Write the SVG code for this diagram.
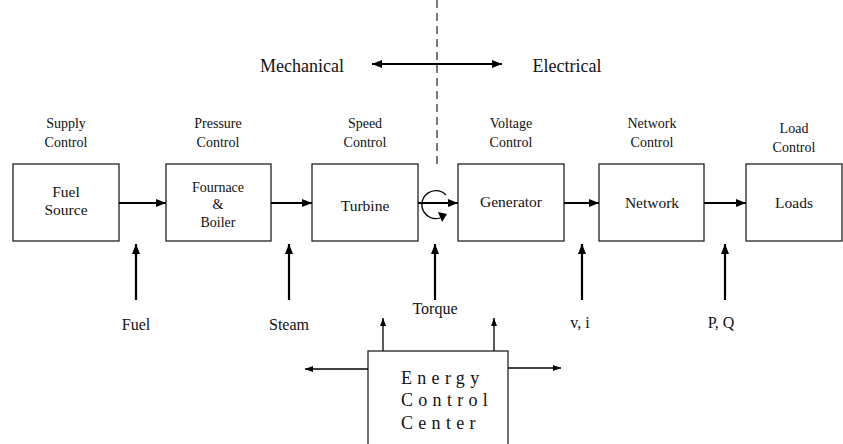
<svg xmlns="http://www.w3.org/2000/svg" width="843" height="444" viewBox="0 0 843 444">
<defs>
<marker id="ah" viewBox="0 0 10 8" refX="10" refY="4" markerWidth="10" markerHeight="8" markerUnits="userSpaceOnUse" orient="auto-start-reverse"><path d="M0,0 L10,4 L0,8 Z" fill="#000"/></marker>
<marker id="ahs" viewBox="0 0 8 6" refX="8" refY="3" markerWidth="8" markerHeight="6" markerUnits="userSpaceOnUse" orient="auto-start-reverse"><path d="M0,0 L8,3 L0,6 Z" fill="#000"/></marker>
<style>
.box{fill:#fff;stroke:#222;stroke-width:1.3}
.t{font-family:"Liberation Serif","Times New Roman",serif;fill:#111;text-anchor:middle}
.s14{font-size:14px}
.s15{font-size:15.5px}
.s16{font-size:16px}
.s18{font-size:18px}
.thick{stroke:#000;stroke-width:2.2;fill:none;marker-end:url(#ah)}
.thin{stroke:#000;stroke-width:1.3;fill:none;marker-end:url(#ahs)}
</style>
</defs>
<rect width="843" height="444" fill="#fff"/>

<g id="divider">
<line x1="437" y1="0" x2="437" y2="165" stroke="#333" stroke-width="1.3" stroke-dasharray="8,5"/>
<line x1="372" y1="64" x2="502" y2="64" stroke="#000" stroke-width="2.2" marker-start="url(#ah)" marker-end="url(#ah)"/>
<text class="t s18" x="302" y="72">Mechanical</text>
<text class="t s18" x="567" y="72">Electrical</text>
</g>

<g id="fuel-source">
<rect class="box" x="13" y="164" width="106" height="77"/>
<text class="t s15" x="66" y="197">Fuel</text>
<text class="t s15" x="66" y="215">Source</text>
<text class="t s14" x="66" y="128">Supply</text>
<text class="t s14" x="66" y="147">Control</text>
</g>

<g id="furnace-boiler">
<rect class="box" x="166" y="164" width="105" height="77"/>
<text class="t s14" x="218" y="192">Fournace</text>
<text class="t s14" x="218" y="209">&amp;</text>
<text class="t s14" x="218" y="227">Boiler</text>
<text class="t s14" x="218" y="128">Pressure</text>
<text class="t s14" x="218" y="147">Control</text>
</g>

<g id="turbine">
<rect class="box" x="312" y="164" width="106" height="77"/>
<text class="t s15" x="365" y="211">Turbine</text>
<text class="t s14" x="365" y="128">Speed</text>
<text class="t s14" x="365" y="147">Control</text>
</g>

<g id="generator">
<rect class="box" x="458" y="164" width="106" height="77"/>
<text class="t s15" x="511" y="207">Generator</text>
<text class="t s14" x="511" y="128">Voltage</text>
<text class="t s14" x="511" y="147">Control</text>
</g>

<g id="network">
<rect class="box" x="599" y="164" width="105" height="77"/>
<text class="t s15" x="652" y="208">Network</text>
<text class="t s14" x="652" y="128">Network</text>
<text class="t s14" x="652" y="147">Control</text>
</g>

<g id="loads">
<rect class="box" x="746" y="164" width="96" height="77"/>
<text class="t s15" x="794" y="208">Loads</text>
<text class="t s14" x="794" y="133">Load</text>
<text class="t s14" x="794" y="152">Control</text>
</g>

<g id="energy-control-center">
<rect class="box" x="368" y="351" width="140" height="100"/>
<text class="t s18" x="401" y="384" style="text-anchor:start;letter-spacing:5.3px">Energy</text>
<text class="t s18" x="401" y="406" style="text-anchor:start;letter-spacing:5.3px">Control</text>
<text class="t s18" x="401" y="429" style="text-anchor:start;letter-spacing:5.3px">Center</text>
</g>

<g id="inputs">
<text class="t s16" x="136" y="330">Fuel</text>
<text class="t s16" x="289" y="330">Steam</text>
<text class="t s16" x="435" y="314">Torque</text>
<text class="t s16" x="580" y="328">v, i</text>
<text class="t s16" x="721" y="328">P, Q</text>
</g>

<g id="connectors">
<line class="thick" x1="119" y1="203" x2="166" y2="203"/>
<line class="thick" x1="271" y1="203" x2="312" y2="203"/>
<line class="thick" x1="418" y1="203" x2="458" y2="203"/>
<line class="thick" x1="564" y1="203" x2="599" y2="203"/>
<line class="thick" x1="704" y1="203" x2="746" y2="203"/>
<line class="thick" x1="136" y1="300" x2="136" y2="244"/>
<line class="thick" x1="289" y1="300" x2="289" y2="244"/>
<line class="thick" x1="435" y1="300" x2="435" y2="244"/>
<line class="thick" x1="582" y1="300" x2="582" y2="244"/>
<line class="thick" x1="725" y1="300" x2="725" y2="244"/>
<path d="M446,195 A14,14 0 1 0 440,218" fill="none" stroke="#000" stroke-width="1.3"/>
<path d="M438,212 L447,214 L442,222 Z" fill="#000"/>
<line class="thin" x1="383" y1="351" x2="383" y2="318"/>
<line class="thin" x1="494" y1="351" x2="494" y2="318"/>
<line class="thin" x1="368" y1="369" x2="305" y2="369"/>
<line class="thin" x1="508" y1="368" x2="561" y2="368"/>
</g>
</svg>
